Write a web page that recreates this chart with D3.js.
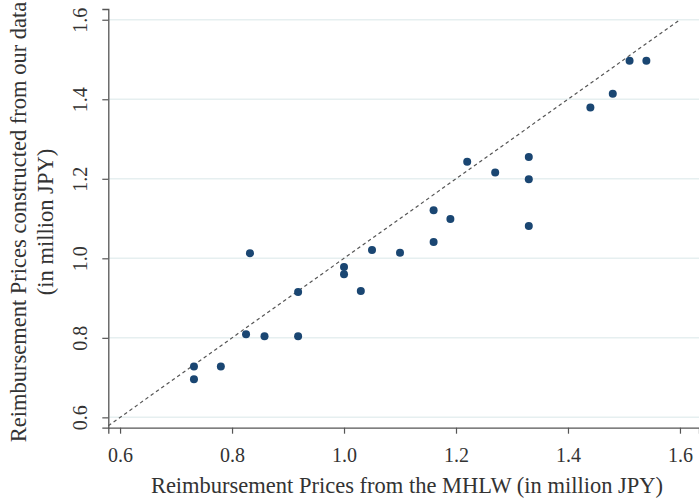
<!DOCTYPE html>
<html>
<head>
<meta charset="utf-8">
<script src="https://cdn.jsdelivr.net/npm/d3@7"></script>
<style>
html,body{margin:0;padding:0;background:#fff;}
svg{display:block;}
text{font-family:"Liberation Serif","Times New Roman",serif;fill:#333;}
</style>
</head>
<body>
<svg id="chart" width="699" height="499"></svg>
<script>
const mhlwPrices = [0.732,0.732,0.78,0.825,0.832,0.858,0.918,0.918,1.0,1.0,1.03,1.05,1.10,1.16,1.16,1.19,1.22,1.27,1.33,1.33,1.33,1.44,1.48,1.51,1.54];
const ourPrices  = [0.728,0.696,0.728,0.809,1.013,0.804,0.915,0.804,0.978,0.96,0.918,1.021,1.014,1.121,1.041,1.099,1.243,1.216,1.255,1.199,1.081,1.379,1.414,1.497,1.497];
const xTicks = [0.6,0.8,1.0,1.2,1.4,1.6];
const yTicks = [0.6,0.8,1.0,1.2,1.4,1.6];
const xTitle = "Reimbursement Prices  from the MHLW (in million JPY)";
const yTitleLines = ["Reimbursement Prices constructed from our data","(in million JPY)"];
const refLine = [0.579, 1.598];

const svg = d3.select("#chart");
const x = d3.scaleLinear().domain([0.579,1.634]).range([108.3,699]);
const y = d3.scaleLinear().domain([0.574,1.627]).range([427.7,9]);

// gridlines
svg.append("g").selectAll("line").data(yTicks).join("line")
  .attr("x1", x.range()[0]).attr("x2", x.range()[1])
  .attr("y1", d=>y(d)).attr("y2", d=>y(d))
  .attr("stroke","#e6eff0").attr("stroke-width",1.5);

// 45 degree line
svg.append("line")
  .attr("x1", x(refLine[0])).attr("y1", y(refLine[0]))
  .attr("x2", x(refLine[1])).attr("y2", y(refLine[1]))
  .attr("stroke","#555").attr("stroke-width",1.2).attr("stroke-dasharray","3.5,3");

// points
svg.append("g").selectAll("circle").data(mhlwPrices.map((d,i)=>[d,ourPrices[i]])).join("circle")
  .attr("cx", d=>x(d[0])).attr("cy", d=>y(d[1])).attr("r",4)
  .attr("fill","#1a4672");

// x axis
const xAxis = svg.append("g").attr("transform",`translate(0,${y.range()[0]})`)
  .call(d3.axisBottom(x).tickValues(xTicks).tickFormat(d3.format(".1f")).tickSizeOuter(0).tickSize(6).tickPadding(14));
xAxis.select(".domain").attr("stroke","#555").attr("stroke-width",1.3);
xAxis.selectAll(".tick line").attr("stroke","#555").attr("stroke-width",1.2);
xAxis.selectAll(".tick text").attr("font-size",20).attr("fill","#333")
  .style("font-family","'Liberation Serif',serif");

// y axis
const yAxis = svg.append("g").attr("transform",`translate(${x.range()[0]},0)`)
  .call(d3.axisLeft(y).tickValues(yTicks).tickFormat(d3.format(".1f")).tickSizeOuter(0).tickSize(6));
yAxis.select(".domain").attr("stroke","#555").attr("stroke-width",1.3);
yAxis.selectAll(".tick line").attr("stroke","#555").attr("stroke-width",1.2);
yAxis.selectAll(".tick text")
  .attr("x",0).attr("y",0).attr("dy",null)
  .attr("text-anchor","middle")
  .attr("transform","translate(-21,0) rotate(-90)")
  .attr("font-size",20).attr("fill","#333")
  .style("font-family","'Liberation Serif',serif");

// x title
svg.append("text").attr("x",407).attr("y",493).attr("text-anchor","middle")
  .attr("font-size",22.5).text(xTitle);

// y title
const yt = svg.append("text").attr("transform","translate(0,222) rotate(-90)")
  .attr("text-anchor","middle").attr("font-size",22.5);
yt.selectAll("tspan").data(yTitleLines).join("tspan")
  .attr("x",0).attr("y",(d,i)=>26+i*27).text(d=>d);
</script>
</body>
</html>
